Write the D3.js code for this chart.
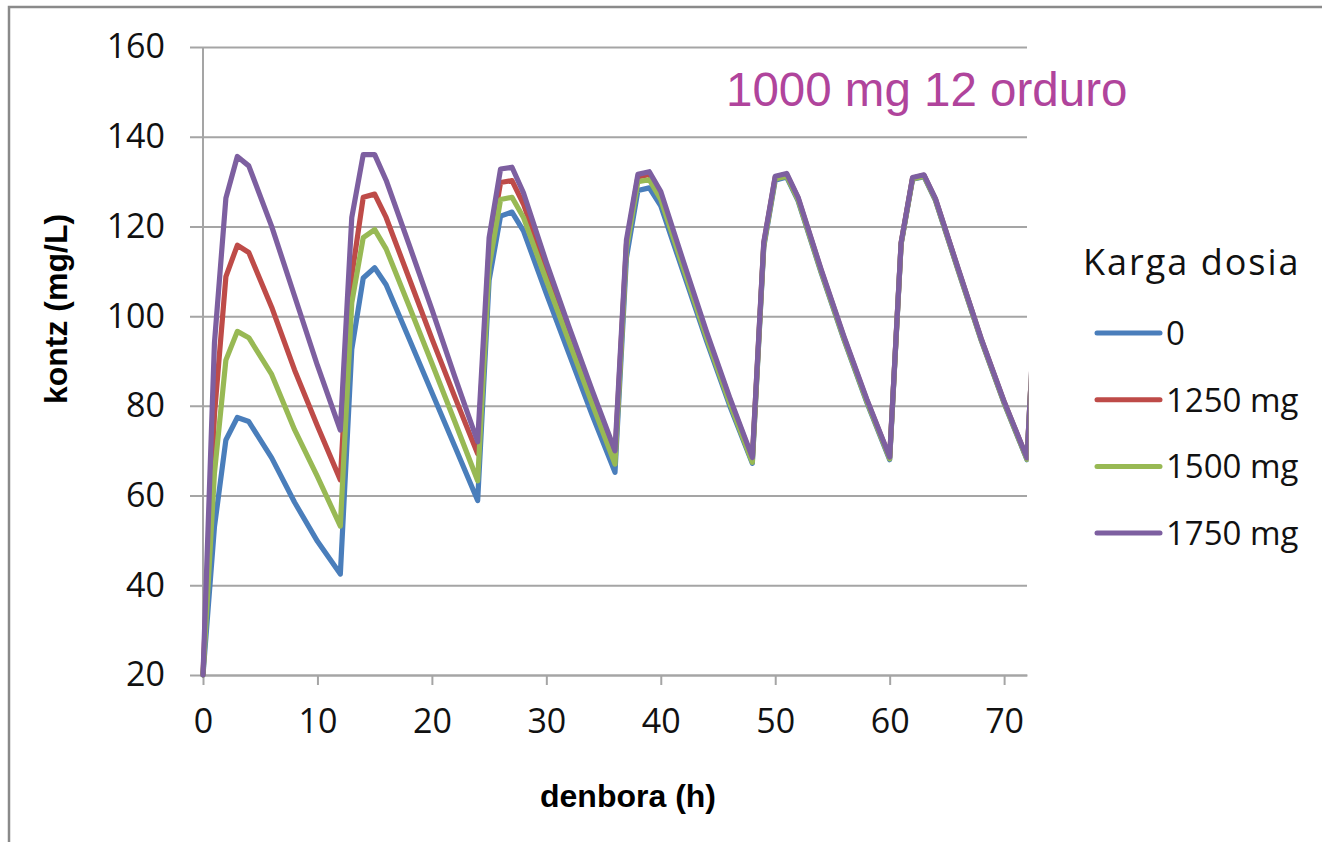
<!DOCTYPE html>
<html>
<head>
<meta charset="utf-8">
<script src="https://cdn.jsdelivr.net/npm/d3@7"></script>
<style>
  html, body { margin: 0; padding: 0; background: #fff; }
  svg { display: block; }
</style>
</head>
<body>
<svg id="chart" width="1322" height="842"></svg>
<script>
// ---- data ----
const times = [0,1,2,3,4,6,8,10,12,
  13,14,15,16,18,20,22,24,
  25,26,27,28,30,32,34,36,
  37,38,39,40,42,44,46,48,
  49,50,51,52,54,56,58,60,
  61,62,63,64,66,68,70,72,
  73];

const dose0 = [20,53,72.4,77.4,76.5,68.4,58.5,49.8,42.5,
  92.6,108.5,110.8,107,95,83,71,58.9,
  108,122.3,123.2,119,105,91.5,78,65.2,
  113,128,128.6,124.6,109.5,94.5,80.2,67.2,
  115.4,130.3,131,125.7,109.8,94.8,80.8,68,
  116,130.5,131.1,125.8,110.1,94.6,80.6,68,
  116.7];

const dose1250 = [20,78,108.8,115.8,114.2,102,88,75.5,63.5,
  109,126.5,127.2,122,108.5,95,82,69.3,
  115,129.8,130.2,125,110.5,96.2,82.2,68.6,
  116,131,131.6,127,111.5,96,81.6,68.2,
  116.2,131,131.6,126.3,110.3,95.3,81.3,68.5,
  116.3,130.8,131.4,126.1,110.4,94.9,80.9,68.3,
  116.9];

const dose1500 = [20,65,90.2,96.6,95.2,87,74.7,64.2,53.2,
  103,117.5,119.3,115,102.3,89.5,76.5,63.3,
  111,126,126.5,122,108,94.2,80.5,67,
  115,130,130.4,126,110.5,95.2,80.8,67.4,
  115.8,130.6,131.2,125.9,110,95,81,68.2,
  116.1,130.6,131.2,125.9,110.2,94.7,80.7,68.1,
  116.8];

const dose1750 = [20,94,126.3,135.6,133.5,120,104.5,89,74.6,
  122,136,136,130.3,116,101.5,86.5,72,
  117.5,132.8,133.2,127.5,112,97.5,83.5,70,
  117,131.6,132.2,127.8,112,96.5,82,68.5,
  116.5,131.2,131.8,126.5,110.5,95.5,81.5,68.6,
  116.4,130.9,131.5,126.2,110.5,95,81,68.4,
  117];

const seriesNames = ["0", "1250 mg", "1500 mg", "1750 mg"];
const seriesValues = [dose0, dose1250, dose1500, dose1750];
const seriesColors = ["#4A7EBB", "#BE4B48", "#98B954", "#7D5FA0"];

const yTicks = [20,40,60,80,100,120,140,160];
const xTicks = [0,10,20,30,40,50,60,70];

const chartTitle = "1000 mg 12 orduro";
const legendTitle = "Karga dosia";
const xTitle = "denbora (h)";
const yTitle = "kontz (mg/L)";

// ---- drawing ----
const svg = d3.select("#chart");
const plotLeft = 203, plotRight = 1027, plotTop = 47, plotBottom = 675;

// outer frame (only top and left edges visible in the reference)
svg.append("rect")
  .attr("x", 9).attr("y", 7)
  .attr("width", 1400).attr("height", 1000)
  .attr("fill", "none").attr("stroke", "#8a8a8a").attr("stroke-width", 2.5);

const x = d3.scaleLinear().domain([0, 72]).range([plotLeft, plotRight]);
const y = d3.scaleLinear().domain([20, 160]).range([plotBottom, plotTop]);

const gridColor = "#a5a5a5";
const tickFont = "'Open Sans', 'Noto Sans', sans-serif";

// y axis with gridlines (gridlines start a little left of the axis, as tick marks)
const yAxis = d3.axisLeft(y).tickValues(yTicks).tickSize(-(plotRight - 190)).tickPadding(25);
const gy = svg.append("g").attr("transform", `translate(190,0)`).call(yAxis);
gy.select(".domain").remove();
gy.selectAll(".tick line").attr("stroke", gridColor).attr("stroke-width", 2);
gy.selectAll(".tick text")
  .attr("font-family", tickFont).attr("font-size", 34).attr("fill", "#111");

// vertical axis line
svg.append("line")
  .attr("x1", plotLeft).attr("x2", plotLeft).attr("y1", plotTop).attr("y2", plotBottom)
  .attr("stroke", gridColor).attr("stroke-width", 2);

// x axis
const xAxis = d3.axisBottom(x).tickValues(xTicks).tickSize(10).tickSizeOuter(0).tickPadding(24);
const gx = svg.append("g").attr("transform", `translate(0,${plotBottom})`).call(xAxis);
gx.select(".domain").attr("stroke", gridColor).attr("stroke-width", 2);
gx.selectAll(".tick line").attr("stroke", gridColor).attr("stroke-width", 2);
gx.selectAll(".tick text")
  .attr("font-family", tickFont).attr("font-size", 34).attr("fill", "#111");

// clip for lines (right edge of plot)
svg.append("clipPath").attr("id", "plotclip")
  .append("rect").attr("x", 0).attr("y", 0).attr("width", plotRight + 1.5).attr("height", 842);

const line = d3.line()
  .x((d, i) => x(times[i]))
  .y(d => y(d));

const linesG = svg.append("g").attr("clip-path", "url(#plotclip)");
seriesValues.forEach((vals, k) => {
  linesG.append("path")
    .datum(vals)
    .attr("d", line)
    .attr("fill", "none")
    .attr("stroke", seriesColors[k])
    .attr("stroke-width", 5.2)
    .attr("stroke-linejoin", "round")
    .attr("stroke-linecap", "round");
});

// chart title (inside plot)
svg.append("text")
  .attr("x", 726).attr("y", 106)
  .attr("font-family", "'Liberation Sans', Arial, sans-serif")
  .attr("font-size", 47.5)
  .attr("fill", "#B0449C")
  .text(chartTitle);

// axis titles
svg.append("text")
  .attr("x", 628).attr("y", 807)
  .attr("text-anchor", "middle")
  .attr("font-family", "'Liberation Sans', Arial, sans-serif")
  .attr("font-weight", "bold").attr("font-size", 32).attr("fill", "#000")
  .text(xTitle);

svg.append("text")
  .attr("transform", "translate(67,309) rotate(-90)")
  .attr("text-anchor", "middle")
  .attr("font-family", "'Liberation Sans', Arial, sans-serif")
  .attr("font-weight", "bold").attr("font-size", 32).attr("fill", "#000")
  .text(yTitle);

// legend
const lg = svg.append("g");
lg.append("text")
  .attr("x", 1083).attr("y", 275)
  .attr("font-family", tickFont).attr("font-size", 36).attr("fill", "#111")
  .attr("letter-spacing", 2)
  .text(legendTitle);

seriesNames.forEach((name, k) => {
  const yy = 333 + k * 66.7;
  lg.append("line")
    .attr("x1", 1097).attr("x2", 1160).attr("y1", yy).attr("y2", yy)
    .attr("stroke", seriesColors[k]).attr("stroke-width", 5)
    .attr("stroke-linecap", "round");
  lg.append("text")
    .attr("x", 1166).attr("y", yy + 12)
    .attr("font-family", tickFont).attr("font-size", 33).attr("fill", "#111")
    .text(name);
});
</script>
</body>
</html>
